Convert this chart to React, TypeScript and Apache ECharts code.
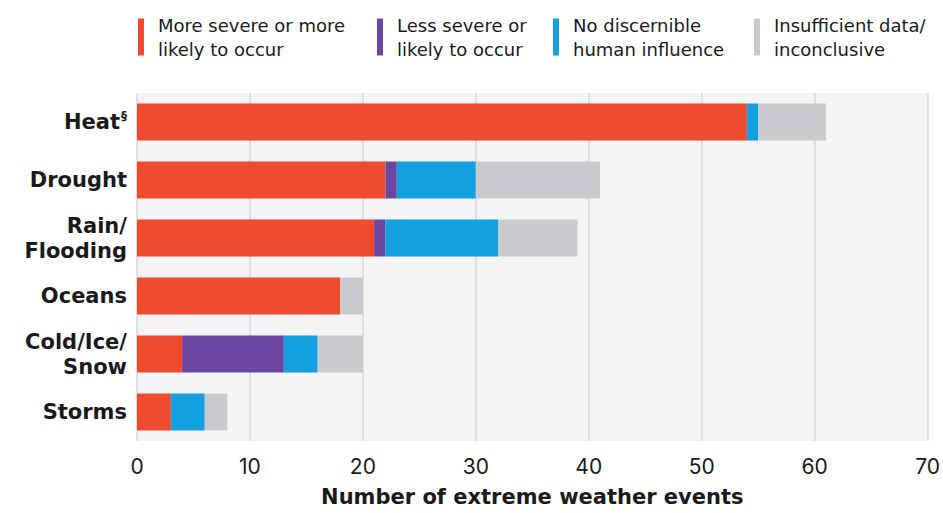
import React, { useEffect, useRef } from "react";
import * as echarts from "echarts";

const categories = ["Heat", "Drought", "Rain/\nFlooding", "Oceans", "Cold/Ice/\nSnow", "Storms"];
const seriesNames = [
  "More severe or more\nlikely to occur",
  "Less severe or\nlikely to occur",
  "No discernible\nhuman influence",
  "Insufficient data/\ninconclusive",
];
const moreSevere = [54, 22, 21, 18, 4, 3];
const lessSevere = [0, 1, 1, 0, 9, 0];
const noInfluence = [1, 7, 10, 0, 3, 3];
const insufficient = [6, 11, 7, 2, 4, 2];
const colors = ["#ef4b2f", "#6a47a3", "#139fe0", "#c9cacd"];
const xTicks = { min: 0, max: 70, interval: 10 };
const legendLefts = [133, 372, 548, 749];

export default function App() {
  const ref = useRef<HTMLDivElement>(null);
  useEffect(() => {
    if (!ref.current) return;
    const chart = echarts.init(ref.current, null, { renderer: "svg" });
    const wide = "'DejaVu Sans', Inter, sans-serif";
    const thin = "Inter, 'DejaVu Sans', sans-serif";
    const values = [moreSevere, lessSevere, noInfluence, insufficient];
    chart.setOption({
      animation: false,
      backgroundColor: "#ffffff",
      textStyle: { fontFamily: wide, color: "#1a1a1a" },
      legend: seriesNames.map((n, i) => ({
        data: [n],
        left: legendLefts[i],
        top: 8,
        icon: "rect",
        itemWidth: 6,
        itemHeight: 37,
        itemGap: 0,
        selectedMode: false,
        textStyle: {
          fontFamily: wide,
          fontSize: 18,
          lineHeight: 24,
          color: "#1a1a1a",
          padding: [0, 0, 0, 9],
        },
      })),
      grid: {
        left: 137,
        right: 14,
        top: 93,
        bottom: 72,
        show: true,
        backgroundColor: "#f4f4f4",
        borderWidth: 0,
      },
      xAxis: {
        type: "value",
        min: xTicks.min,
        max: xTicks.max,
        interval: xTicks.interval,
        axisLine: { show: false },
        axisTick: { show: false },
        splitLine: { show: true, lineStyle: { color: "#d9d9d9", width: 1.5 } },
        axisLabel: { fontFamily: thin, fontSize: 21, color: "#1a1a1a", margin: 15 },
        name: "Number of extreme weather events",
        nameLocation: "middle",
        nameGap: 45,
        nameTextStyle: { fontFamily: wide, fontSize: 21, fontWeight: "bold", color: "#1a1a1a" },
      },
      yAxis: {
        type: "category",
        data: categories,
        inverse: true,
        axisLine: { show: false },
        axisTick: { show: false },
        splitLine: { show: false },
        axisLabel: {
          fontFamily: wide,
          fontSize: 21,
          fontWeight: "bold",
          lineHeight: 25,
          color: "#1a1a1a",
          margin: 10,
          align: "right",
          formatter: (v: string) => (v === "Heat" ? "Heat{sup|§}" : v),
          rich: {
            sup: {
              fontFamily: wide,
              fontSize: 12,
              fontWeight: "bold",
              color: "#1a1a1a",
              verticalAlign: "top",
              padding: [0, 0, 8, 1],
            },
          },
        },
      },
      series: seriesNames.map((n, i) => ({
        name: n,
        type: "bar",
        stack: "total",
        barWidth: 37,
        data: values[i],
        itemStyle: { color: colors[i] },
        emphasis: { disabled: true },
      })),
    });
    return () => chart.dispose();
  }, []);
  return (
    <div
      ref={ref}
      style={{ position: "fixed", left: 0, top: 0, width: 943, height: 513 }}
    />
  );
}
